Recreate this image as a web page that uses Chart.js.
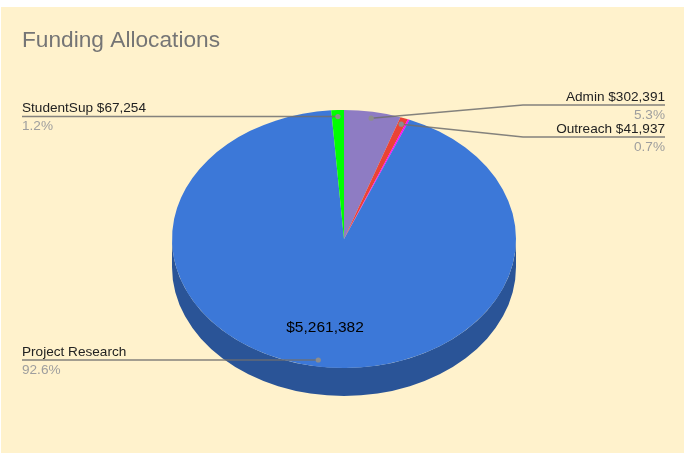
<!DOCTYPE html>
<html>
<head>
<meta charset="utf-8">
<title>Funding Allocations</title>
<script src="https://cdn.jsdelivr.net/npm/chart.js@4.4.0/dist/chart.umd.min.js"></script>
<style>
  body { margin: 0; background: #ffffff; }
  #wrap { width: 684px; height: 453px; }
</style>
</head>
<body>
<div id="wrap"><canvas id="myChart" width="684" height="453"></canvas></div>
<script>
// data (clockwise from 12 o'clock, like the sheet)
const categorias = ["Admin", "Outreach", "Other", "Project Research", "StudentSup"];
const valores = [302391, 41937, 9000, 5261382, 67254];
const colores = ["#8e7cc3", "#ea4335", "#ff00ff", "#3c78d8", "#00ff00"];
const titulo = "Funding Allocations";

// look of the fake 3d pie
const inclinacion = 0.75;
const profundidad = 28;
const fuente = "'Liberation Sans', Arial, sans-serif";

// where each outside label goes (null = no label)
const etiquetas = [
  {lado: "right", lineaY: 105},
  {lado: "right", lineaY: 137},
  null,
  {lado: "left", valorDentro: true},
  {lado: "left"}
];

let total = valores.reduce((a, b) => a + b, 0);

function dinero(v) {
  return "$" + v.toLocaleString("en-US");
}

function oscuro(hex, f) {
  let r = parseInt(hex.slice(1, 3), 16);
  let g = parseInt(hex.slice(3, 5), 16);
  let b = parseInt(hex.slice(5, 7), 16);
  return "rgb(" + Math.round(r * f) + "," + Math.round(g * f) + "," + Math.round(b * f) + ")";
}

// point on the tilted pie at a given angle and radius fraction
function punto(arc, ang, frac) {
  return {
    x: arc.x + arc.outerRadius * frac * Math.cos(ang),
    y: arc.y + arc.outerRadius * frac * inclinacion * Math.sin(ang)
  };
}

const fondo = {
  id: "fondo",
  beforeDraw(chart) {
    const ctx = chart.ctx;
    ctx.save();
    ctx.fillStyle = "#ffffff";
    ctx.fillRect(0, 0, chart.width, chart.height);
    ctx.fillStyle = "#fff2cc";
    ctx.fillRect(1, 7, chart.width - 1, chart.height - 7);
    ctx.fillStyle = "#757575";
    ctx.font = "22.7px " + fuente;
    ctx.textBaseline = "alphabetic";
    ctx.fillText(titulo, 22, 47);
    ctx.restore();
  }
};

const pastel3d = {
  id: "pastel3d",
  beforeDatasetsDraw(chart) {
    const ctx = chart.ctx;
    const arcos = chart.getDatasetMeta(0).data;
    // side wall first
    arcos.forEach((arc, i) => {
      let a1 = Math.max(arc.startAngle, 0);
      let a2 = Math.min(arc.endAngle, Math.PI);
      if (a1 >= a2) return;
      let rx = arc.outerRadius, ry = arc.outerRadius * inclinacion;
      ctx.save();
      ctx.beginPath();
      ctx.ellipse(arc.x, arc.y + profundidad, rx, ry, 0, a1, a2, false);
      let p = punto(arc, a2, 1);
      ctx.lineTo(p.x, p.y);
      ctx.ellipse(arc.x, arc.y, rx, ry, 0, a2, a1, true);
      ctx.closePath();
      ctx.fillStyle = oscuro(colores[i], 0.7);
      ctx.fill();
      ctx.restore();
    });
    // squash the top face
    const a = arcos[0];
    ctx.save();
    ctx.translate(a.x, a.y);
    ctx.scale(1, inclinacion);
    ctx.translate(-a.x, -a.y);
  },
  afterDatasetsDraw(chart) {
    const ctx = chart.ctx;
    ctx.restore();
    const arcos = chart.getDatasetMeta(0).data;
    arcos.forEach((arc, i) => {
      let et = etiquetas[i];
      if (!et) return;
      let medio = (arc.startAngle + arc.endAngle) / 2;
      let dot = punto(arc, medio, 0.95);
      let pct = (valores[i] / total * 100).toFixed(1) + "%";
      let texto = et.valorDentro ? categorias[i] : categorias[i] + " " + dinero(valores[i]);
      let y = et.lado === "left" ? dot.y : et.lineaY;

      ctx.save();
      ctx.strokeStyle = "rgba(110,110,110,0.85)";
      ctx.lineWidth = 1.5;
      ctx.beginPath();
      if (et.lado === "left") {
        ctx.moveTo(22, y);
        ctx.lineTo(dot.x, y);
      } else {
        ctx.moveTo(665, y);
        ctx.lineTo(523, y);
        ctx.lineTo(dot.x, dot.y);
      }
      ctx.stroke();
      ctx.fillStyle = "#8d8d8d";
      ctx.beginPath();
      ctx.arc(dot.x, dot.y, 2.6, 0, Math.PI * 2);
      ctx.fill();

      ctx.font = "13.6px " + fuente;
      ctx.textBaseline = "alphabetic";
      ctx.textAlign = et.lado === "left" ? "left" : "right";
      let tx = et.lado === "left" ? 22 : 665;
      ctx.fillStyle = "#222222";
      ctx.fillText(texto, tx, y - 4.5);
      ctx.fillStyle = "#9e9e9e";
      ctx.fillText(pct, tx, y + 13.5);

      if (et.valorDentro) {
        let c = punto(arc, medio, 0.7);
        ctx.font = "15.5px " + fuente;
        ctx.textAlign = "center";
        ctx.textBaseline = "middle";
        ctx.fillStyle = "#000000";
        ctx.fillText(dinero(valores[i]), c.x, c.y);
      }
      ctx.restore();
    });
  }
};

let myChart = document.getElementById("myChart");

new Chart(myChart, {
  type: "pie",
  data: {
    labels: categorias,
    datasets: [{
      data: valores,
      backgroundColor: colores,
      borderWidth: 0,
      hoverOffset: 0
    }]
  },
  options: {
    responsive: false,
    animation: false,
    radius: 172,
    layout: { padding: { left: 172, right: 168, top: 67, bottom: 42 } },
    plugins: {
      legend: { display: false },
      tooltip: { enabled: false },
      title: { display: false }
    }
  },
  plugins: [fondo, pastel3d]
});
</script>
</body>
</html>
